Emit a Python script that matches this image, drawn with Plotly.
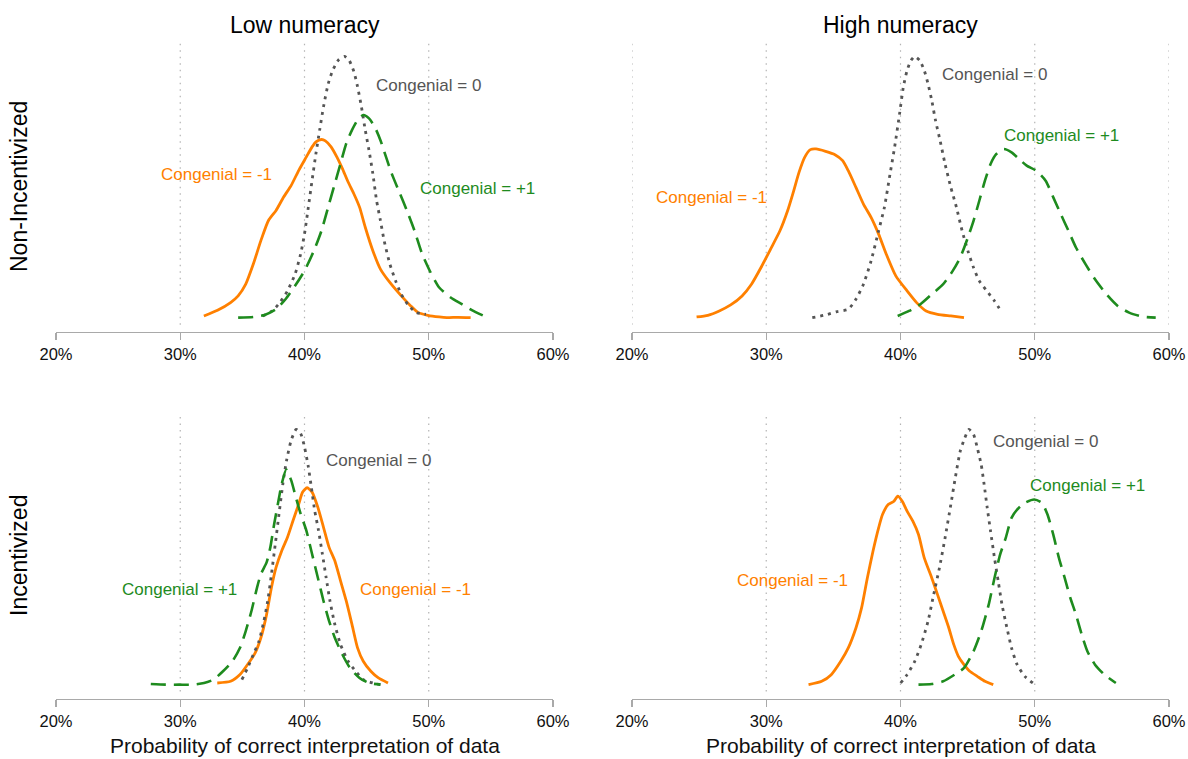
import plotly.graph_objects as go

# ---------------- data (x in %, y = kernel density, arbitrary units) ----------------
TICK_VALS = [20, 30, 40, 50, 60]
TICK_TEXT = ["20%", "30%", "40%", "50%", "60%"]

COL_TITLES = ["Low numeracy", "High numeracy"]
ROW_TITLES = ["Non-Incentivized", "Incentivized"]
X_TITLE = "Probability of correct interpretation of data"

# Top-left: Low numeracy, Non-Incentivized
TL_M1_X = [31.9, 33.0, 34.05, 34.66, 35.27, 35.88, 36.49, 37.10, 37.71, 38.32, 38.93, 39.54, 40.15, 40.61, 40.92,
           41.37, 41.68, 42.14, 42.60, 43.05, 43.51, 43.97, 44.43, 44.89, 45.50, 46.11, 46.87, 47.79, 48.55, 49.16,
           49.92, 50.84, 51.45, 52.37, 53.37]
TL_M1_Y = [0.005, 0.022, 0.045, 0.065, 0.100, 0.160, 0.230, 0.290, 0.320, 0.360, 0.395, 0.440, 0.480, 0.510, 0.525,
           0.532, 0.528, 0.510, 0.480, 0.445, 0.405, 0.370, 0.330, 0.270, 0.200, 0.145, 0.105, 0.065, 0.035, 0.015,
           0.007, 0.002, 0.000, 0.001, 0.000]
TL_0_X = [36.64, 37.40, 38.02, 38.63, 39.24, 39.69, 40.00, 40.31, 40.61, 40.92, 41.22, 41.53, 41.92, 42.29, 42.75,
          43.21, 43.57, 43.97, 44.27, 44.58, 44.89, 45.19, 45.50, 45.80, 46.11, 46.41, 46.87, 47.33, 47.79, 48.40,
          49.01, 49.77]
TL_0_Y = [0.005, 0.020, 0.045, 0.080, 0.130, 0.190, 0.250, 0.330, 0.410, 0.490, 0.560, 0.630, 0.700, 0.740, 0.770,
          0.780, 0.770, 0.735, 0.690, 0.630, 0.560, 0.500, 0.430, 0.350, 0.290, 0.230, 0.160, 0.110, 0.070, 0.035,
          0.015, 0.010]
TL_P1_X = [34.66, 35.88, 36.79, 37.71, 38.47, 39.24, 40.00, 40.76, 41.37, 41.98, 42.44, 42.90, 43.36, 43.82, 44.27,
           44.73, 45.19, 45.65, 46.11, 46.56, 47.02, 47.63, 48.24, 48.85, 49.47, 50.08, 50.84, 51.76, 52.67, 53.59,
           54.44]
TL_P1_Y = [0.000, 0.002, 0.008, 0.025, 0.055, 0.095, 0.140, 0.200, 0.260, 0.340, 0.400, 0.460, 0.520, 0.560, 0.590,
           0.605, 0.595, 0.570, 0.530, 0.480, 0.430, 0.375, 0.320, 0.260, 0.190, 0.140, 0.090, 0.060, 0.040, 0.020,
           0.005]

# Top-right: High numeracy, Non-Incentivized
TR_M1_X = [24.81, 25.65, 26.50, 27.35, 28.20, 28.90, 29.61, 30.32, 31.02, 31.59, 32.01, 32.44, 32.86, 33.29, 33.71,
           34.42, 35.12, 35.69, 36.11, 36.68, 37.24, 37.81, 38.37, 38.94, 39.65, 40.49, 41.20, 41.91, 42.76, 43.75,
           44.73]
TR_M1_Y = [0.002, 0.007, 0.020, 0.038, 0.065, 0.100, 0.150, 0.205, 0.260, 0.320, 0.375, 0.435, 0.480, 0.503, 0.505,
           0.498, 0.488, 0.470, 0.440, 0.390, 0.340, 0.300, 0.250, 0.190, 0.125, 0.080, 0.045, 0.020, 0.010, 0.005,
           0.000]
TR_0_X = [33.43, 34.42, 35.27, 36.11, 36.68, 37.24, 37.81, 38.37, 38.80, 39.22, 39.56, 39.93, 40.21, 40.49, 40.78,
          41.06, 41.43, 41.77, 42.05, 42.33, 42.61, 42.95, 43.32, 43.75, 44.17, 44.59, 45.02, 45.44, 45.87, 46.43,
          47.00, 47.56]
TR_0_Y = [0.000, 0.008, 0.018, 0.025, 0.055, 0.100, 0.170, 0.260, 0.330, 0.430, 0.510, 0.610, 0.690, 0.740, 0.770,
          0.782, 0.770, 0.740, 0.700, 0.650, 0.590, 0.530, 0.460, 0.390, 0.330, 0.260, 0.200, 0.150, 0.110, 0.080,
          0.050, 0.015]
TR_P1_X = [39.79, 40.64, 41.48, 42.33, 43.18, 43.89, 44.45, 45.02, 45.44, 45.87, 46.29, 46.71, 47.14, 47.70, 48.27,
           48.83, 49.40, 50.11, 50.81, 51.38, 51.94, 52.51, 53.07, 53.78, 54.49, 55.34, 56.18, 57.03, 58.02, 59.01]
TR_P1_Y = [0.005, 0.020, 0.040, 0.070, 0.100, 0.140, 0.180, 0.240, 0.290, 0.350, 0.410, 0.460, 0.490, 0.505, 0.495,
           0.475, 0.455, 0.440, 0.410, 0.360, 0.310, 0.260, 0.210, 0.160, 0.115, 0.070, 0.035, 0.015, 0.003, 0.000]

# Bottom-left: Low numeracy, Incentivized
BL_M1_X = [32.98, 34.05, 34.81, 35.42, 36.03, 36.49, 36.95, 37.34, 37.71, 38.17, 38.63, 39.08, 39.54, 39.85, 40.21,
           40.61, 41.07, 41.53, 41.98, 42.44, 42.90, 43.36, 43.82, 44.27, 44.73, 45.34, 45.95, 46.72]
BL_M1_Y = [0.005, 0.010, 0.030, 0.060, 0.095, 0.140, 0.210, 0.290, 0.350, 0.400, 0.440, 0.490, 0.540, 0.575, 0.588,
           0.575, 0.530, 0.470, 0.410, 0.370, 0.310, 0.250, 0.180, 0.110, 0.070, 0.040, 0.020, 0.005]
BL_0_X = [34.96, 35.42, 35.88, 36.34, 36.73, 37.04, 37.34, 37.65, 37.95, 38.26, 38.56, 38.93, 39.33, 39.69, 40.00,
          40.31, 40.55, 40.82, 41.13, 41.44, 41.74, 42.05, 42.44, 42.90, 43.51, 44.12, 44.73, 45.50, 46.11]
BL_0_Y = [0.015, 0.050, 0.090, 0.130, 0.190, 0.250, 0.330, 0.420, 0.510, 0.600, 0.670, 0.730, 0.762, 0.750, 0.710,
          0.650, 0.590, 0.520, 0.460, 0.390, 0.320, 0.250, 0.180, 0.120, 0.070, 0.040, 0.015, 0.005, 0.000]
BL_P1_X = [27.63, 28.85, 29.92, 30.99, 31.91, 32.67, 33.44, 34.20, 34.81, 35.27, 35.73, 36.18, 36.49, 36.95, 37.25,
           37.56, 37.86, 38.17, 38.53, 38.93, 39.30, 39.69, 40.15, 40.61, 41.07, 41.53, 41.98, 42.44, 43.05, 43.66,
           44.43, 45.19, 46.11]
BL_P1_Y = [0.002, 0.000, 0.000, 0.000, 0.005, 0.015, 0.040, 0.070, 0.110, 0.160, 0.220, 0.290, 0.330, 0.365, 0.410,
           0.480, 0.540, 0.600, 0.642, 0.610, 0.560, 0.510, 0.460, 0.390, 0.320, 0.250, 0.190, 0.140, 0.090, 0.050,
           0.020, 0.005, 0.000]

# Bottom-right: High numeracy, Incentivized
BR_M1_X = [33.15, 34.13, 34.84, 35.55, 36.11, 36.68, 37.10, 37.53, 37.95, 38.37, 38.66, 39.08, 39.51, 39.79, 40.13,
           40.49, 40.92, 41.34, 41.77, 42.33, 42.76, 43.18, 43.60, 43.97, 44.31, 44.73, 45.16, 45.72, 46.29, 46.91]
BR_M1_Y = [0.000, 0.010, 0.030, 0.070, 0.110, 0.170, 0.230, 0.320, 0.400, 0.470, 0.510, 0.540, 0.550, 0.565, 0.550,
           0.520, 0.490, 0.450, 0.380, 0.320, 0.270, 0.220, 0.170, 0.120, 0.085, 0.060, 0.040, 0.025, 0.010, 0.000]
BR_0_X = [40.01, 40.49, 41.06, 41.54, 42.05, 42.47, 42.90, 43.32, 43.75, 44.08, 44.45, 44.79, 45.10, 45.44, 45.72,
          46.01, 46.23, 46.46, 46.71, 47.00, 47.28, 47.56, 47.93, 48.27, 48.69, 49.26, 49.96]
BR_0_Y = [0.005, 0.030, 0.070, 0.120, 0.190, 0.270, 0.350, 0.440, 0.540, 0.620, 0.700, 0.740, 0.765, 0.750, 0.710,
          0.660, 0.600, 0.530, 0.460, 0.380, 0.310, 0.240, 0.170, 0.110, 0.060, 0.025, 0.002]
BR_P1_X = [41.34, 42.33, 43.18, 44.03, 44.73, 45.44, 46.01, 46.57, 47.00, 47.42, 47.84, 48.27, 48.69, 49.26, 49.96,
           50.53, 50.95, 51.38, 51.80, 52.23, 52.65, 53.07, 53.50, 53.92, 54.49, 55.19, 56.04]
BR_P1_Y = [0.000, 0.002, 0.010, 0.030, 0.050, 0.100, 0.160, 0.240, 0.320, 0.390, 0.440, 0.500, 0.525, 0.545, 0.555,
           0.545, 0.510, 0.450, 0.380, 0.320, 0.260, 0.210, 0.150, 0.100, 0.060, 0.030, 0.005]

# label anchor positions (x %, density)
TL_LABELS = {"Congenial = -1": (32.92, 0.428), "Congenial = 0": (49.95, 0.692), "Congenial = +1": (53.92, 0.385)}
TR_LABELS = {"Congenial = -1": (25.94, 0.360), "Congenial = 0": (47.0, 0.728), "Congenial = +1": (51.97, 0.545)}
BL_LABELS = {"Congenial = -1": (48.93, 0.283), "Congenial = 0": (45.98, 0.668), "Congenial = +1": (29.91, 0.283)}
BR_LABELS = {"Congenial = -1": (31.94, 0.312), "Congenial = 0": (50.77, 0.728), "Congenial = +1": (53.96, 0.598)}

GRID_TL = [30, 40, 50]
GRID_TR = [20, 30, 40, 50, 60]
GRID_BL = [30, 40, 50]
GRID_BR = [30, 40, 50]

# ---------------- styling ----------------
W, H = 1188, 759
FONT = "Liberation Sans, Arial, Helvetica, sans-serif"
C_ORANGE = "#FF8000"
C_GRAY = "#555555"
C_GREEN = "#1E8B1E"
STYLE = {
    "Congenial = -1": dict(color=C_ORANGE, width=2.8, dash="solid"),
    "Congenial = 0": dict(color=C_GRAY, width=2.8, dash="3px,5px"),
    "Congenial = +1": dict(color=C_GREEN, width=2.6, dash="15px,8px"),
}
LABEL_COLOR = {"Congenial = -1": C_ORANGE, "Congenial = 0": C_GRAY, "Congenial = +1": C_GREEN}

# panel pixel boxes: (left, right, top, bottom)
BOXES = [(56, 553, 40, 332), (632, 1169, 40, 332), (56, 553, 413.4, 698.7), (632, 1169, 413.4, 698.7)]

panels = [
    dict(curves=[("Congenial = -1", TL_M1_X, TL_M1_Y), ("Congenial = 0", TL_0_X, TL_0_Y), ("Congenial = +1", TL_P1_X, TL_P1_Y)],
         labels=TL_LABELS, grid=GRID_TL),
    dict(curves=[("Congenial = -1", TR_M1_X, TR_M1_Y), ("Congenial = 0", TR_0_X, TR_0_Y), ("Congenial = +1", TR_P1_X, TR_P1_Y)],
         labels=TR_LABELS, grid=GRID_TR),
    dict(curves=[("Congenial = -1", BL_M1_X, BL_M1_Y), ("Congenial = 0", BL_0_X, BL_0_Y), ("Congenial = +1", BL_P1_X, BL_P1_Y)],
         labels=BL_LABELS, grid=GRID_BL),
    dict(curves=[("Congenial = -1", BR_M1_X, BR_M1_Y), ("Congenial = 0", BR_0_X, BR_0_Y), ("Congenial = +1", BR_P1_X, BR_P1_Y)],
         labels=BR_LABELS, grid=GRID_BR),
]

fig = go.Figure()
layout = dict(
    template="none",
    width=W, height=H, margin=dict(l=0, r=0, t=0, b=0, pad=0, autoexpand=False),
    paper_bgcolor="white", plot_bgcolor="white", showlegend=False,
    font=dict(family=FONT, color="#111111"),
)
annotations = []
shapes = []

for i, p in enumerate(panels):
    n = "" if i == 0 else str(i + 1)
    xa, ya = "x" + n, "y" + n
    left, right, top, bottom = BOXES[i]
    ymax = max(max(c[2]) for c in p["curves"])
    for name, xs, ys in p["curves"]:
        st = STYLE[name]
        fig.add_trace(go.Scatter(
            x=xs, y=ys, mode="lines", name=name, xaxis=xa, yaxis=ya,
            line=dict(color=st["color"], width=st["width"], dash=st["dash"], shape="spline", smoothing=0.6),
            hoverinfo="skip"))
    layout["xaxis" + n] = dict(
        domain=[left / W, right / W], anchor=ya, range=[20, 60], automargin=False,
        tickvals=TICK_VALS, ticktext=TICK_TEXT, showgrid=False, zeroline=False,
        showline=True, linecolor="#a9a9a9", linewidth=1.4,
        ticks="outside", ticklen=7, tickwidth=1.4, tickcolor="#a9a9a9",
        tickfont=dict(size=16.5, color="#111111", family=FONT), fixedrange=True)
    layout["yaxis" + n] = dict(
        domain=[1 - bottom / H, 1 - top / H], anchor=xa, automargin=False,
        range=[-0.055 * ymax, 1.063 * ymax], visible=False, fixedrange=True)
    for g in p["grid"]:
        shapes.append(dict(type="line", xref=xa, yref=ya + " domain", x0=g, x1=g, y0=0.025, y1=1,
                           line=dict(color="#b4b4b4", width=1.2, dash="1.5px,5px"), layer="below"))
    for text, (lx, ly) in p["labels"].items():
        annotations.append(dict(text=text, x=lx, y=ly, xref=xa, yref=ya, showarrow=False,
                                xanchor="center", yanchor="middle",
                                font=dict(size=17, color=LABEL_COLOR[text], family=FONT)))

# column titles, row titles, axis titles
for j, t in enumerate(COL_TITLES):
    left, right, _, _ = BOXES[j]
    annotations.append(dict(text=t, x=(left + right) / 2 / W, y=1 - 25 / H, xref="paper", yref="paper",
                            showarrow=False, xanchor="center", yanchor="middle",
                            font=dict(size=23, color="#000000", family=FONT)))
for r, t in enumerate(ROW_TITLES):
    yc = [187, 556][r]
    annotations.append(dict(text=t, x=19 / W, y=1 - yc / H, xref="paper", yref="paper",
                            showarrow=False, xanchor="center", yanchor="middle", textangle=-90,
                            font=dict(size=23, color="#000000", family=FONT)))
for j in (2, 3):
    left, right, _, _ = BOXES[j]
    annotations.append(dict(text=X_TITLE, x=(left + right) / 2 / W, y=1 - 745 / H, xref="paper", yref="paper",
                            showarrow=False, xanchor="center", yanchor="middle",
                            font=dict(size=21, color="#111111", family=FONT)))

layout["annotations"] = annotations
layout["shapes"] = shapes
fig.update_layout(**layout)

fig.write_html("out.html", config={"displayModeBar": False, "staticPlot": True},
               post_script="document.body.style.margin='0';")
